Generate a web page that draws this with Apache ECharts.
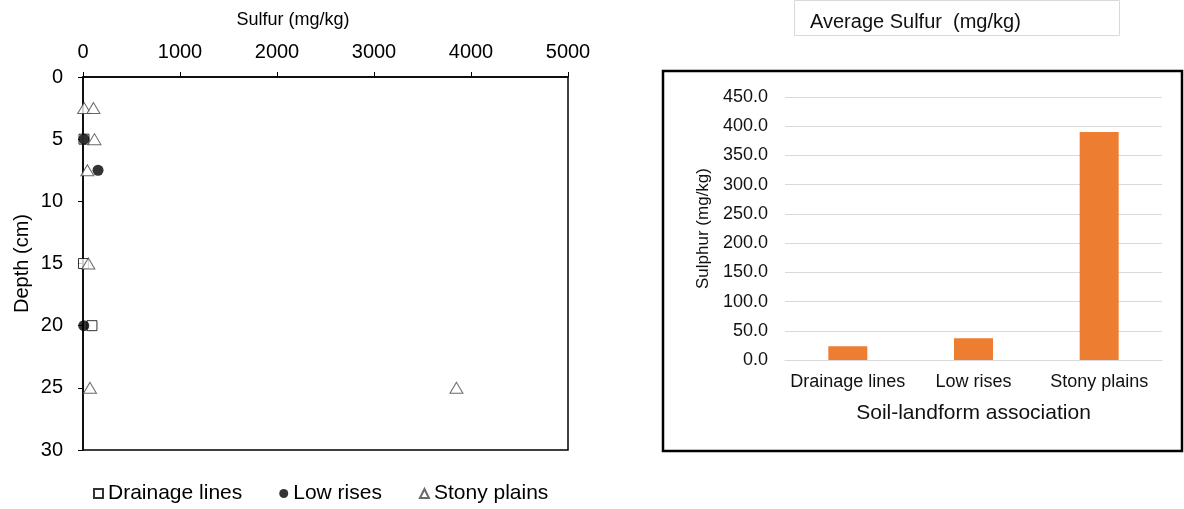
<!DOCTYPE html>
<html>
<head>
<meta charset="utf-8">
<script src="https://cdn.jsdelivr.net/npm/echarts@6/dist/echarts.min.js"></script>
<style>
  html, body { margin: 0; padding: 0; background: #fff; }
  #chart { width: 1184px; height: 509px; }
</style>
</head>
<body>
<div id="chart"></div>
<script>
// Sulfur by depth for each soil-landform association
const drainageDepth = [5, 15, 20];
const drainageSulfur = [10, 5, 92];
const lowRisesDepth = [5, 7.5, 20];
const lowRisesSulfur = [10, 155, 8];
const stonyDepth = [2.5, 2.5, 5, 7.5, 15, 25, 25];
const stonySulfur = [12, 108, 118, 45, 55, 72, 3850];

// Average sulfur per association
const associations = ['Drainage lines', 'Low rises', 'Stony plains'];
const averageSulfur = [23.6, 37.4, 390];

const sulfurTicks = { min: 0, max: 5000, interval: 1000 };
const depthTicks = { min: 0, max: 30, interval: 5 };
const averageTicks = { min: 0, max: 450, interval: 50 };

const FONT = '"Liberation Sans", Arial, sans-serif';

function pairs(xs, ys) {
  return xs.map((x, i) => [x, ys[i]]);
}

const chart = echarts.init(document.getElementById('chart'), null, { renderer: 'canvas' });

chart.setOption({
  animation: false,
  textStyle: { fontFamily: FONT },
  grid: [
    { left: 83, top: 77, width: 485, height: 373, show: true, borderColor: '#000', borderWidth: 1.5, backgroundColor: 'transparent' },
    { left: 785, top: 97, width: 377, height: 263 }
  ],
  xAxis: [
    {
      gridIndex: 0, type: 'value', position: 'top',
      min: sulfurTicks.min, max: sulfurTicks.max, interval: sulfurTicks.interval,
      axisLine: { show: true, onZero: false, lineStyle: { color: '#000', width: 1.5 } },
      axisTick: { show: true, length: 5, lineStyle: { color: '#000' } },
      axisLabel: { fontSize: 20, color: '#000', margin: 15, fontFamily: FONT,
        formatter: v => String(v) },
      splitLine: { show: false }
    },
    {
      gridIndex: 1, type: 'category', data: associations,
      axisLine: { show: true, lineStyle: { color: '#d9d9d9', width: 1 } },
      axisTick: { show: false },
      axisLabel: { fontSize: 18, color: '#111', margin: 13, interval: 0, fontFamily: FONT },
      name: 'Soil-landform association', nameLocation: 'middle', nameGap: 43,
      nameTextStyle: { fontSize: 21, color: '#111', fontFamily: FONT }
    }
  ],
  yAxis: [
    {
      gridIndex: 0, type: 'value', inverse: true,
      min: depthTicks.min, max: depthTicks.max, interval: depthTicks.interval,
      axisLine: { show: true, onZero: false, lineStyle: { color: '#000', width: 1.5 } },
      axisTick: { show: true, length: 5, lineStyle: { color: '#000' } },
      axisLabel: { fontSize: 20, color: '#000', margin: 20, fontFamily: FONT },
      splitLine: { show: false },
      name: 'Depth (cm)', nameLocation: 'middle', nameGap: 51,
      nameTextStyle: { fontSize: 20, color: '#000', fontFamily: FONT }
    },
    {
      gridIndex: 1, type: 'value',
      min: averageTicks.min, max: averageTicks.max, interval: averageTicks.interval,
      axisLine: { show: false },
      axisTick: { show: false },
      axisLabel: { fontSize: 18, color: '#111', margin: 17, fontFamily: FONT,
        formatter: v => v.toFixed(1) },
      splitLine: { show: true, lineStyle: { color: '#d9d9d9', width: 1 } },
      name: 'Sulphur (mg/kg)', nameLocation: 'middle', nameGap: 73,
      nameTextStyle: { fontSize: 17, color: '#111', fontFamily: FONT }
    }
  ],
  legend: {
    left: 88, top: 478,
    itemWidth: 9, itemHeight: 9, itemGap: 37,
    textStyle: { fontSize: 21, color: '#000', fontFamily: FONT },
    data: ['Drainage lines', 'Low rises', 'Stony plains']
  },
  series: [
    {
      name: 'Drainage lines', type: 'scatter', xAxisIndex: 0, yAxisIndex: 0,
      symbol: 'rect', symbolSize: 10,
      itemStyle: { color: '#fff', borderColor: '#000', borderWidth: 1 },
      data: pairs(drainageSulfur, drainageDepth)
    },
    {
      name: 'Low rises', type: 'scatter', xAxisIndex: 0, yAxisIndex: 0,
      symbol: 'circle', symbolSize: 11,
      itemStyle: { color: '#000' },
      data: pairs(lowRisesSulfur, lowRisesDepth)
    },
    {
      name: 'Stony plains', type: 'scatter', xAxisIndex: 0, yAxisIndex: 0,
      symbol: 'triangle', symbolSize: [13, 11],
      itemStyle: { color: '#fff', borderColor: '#444', borderWidth: 1 },
      data: pairs(stonySulfur, stonyDepth)
    },
    {
      name: 'Average Sulfur', type: 'bar', xAxisIndex: 1, yAxisIndex: 1,
      barWidth: 39,
      itemStyle: { color: '#ED7D31' },
      data: averageSulfur
    }
  ],
  graphic: [
    {
      type: 'text', x: 293, y: 20,
      style: { text: 'Sulfur (mg/kg)', font: '18px ' + FONT, fill: '#000', align: 'center', verticalAlign: 'middle' }
    },
    {
      type: 'rect', shape: { x: 663, y: 71, width: 519, height: 380 },
      style: { fill: 'none', stroke: '#000', lineWidth: 2.5 }
    },
    {
      type: 'rect', shape: { x: 794.5, y: 0.5, width: 325, height: 35 },
      style: { fill: '#fff', stroke: '#d9d9d9', lineWidth: 1 }
    },
    {
      type: 'text', x: 810, y: 22,
      style: { text: 'Average Sulfur  (mg/kg)', font: '20px ' + FONT, fill: '#111', align: 'left', verticalAlign: 'middle' }
    }
  ]
});
</script>
</body>
</html>
